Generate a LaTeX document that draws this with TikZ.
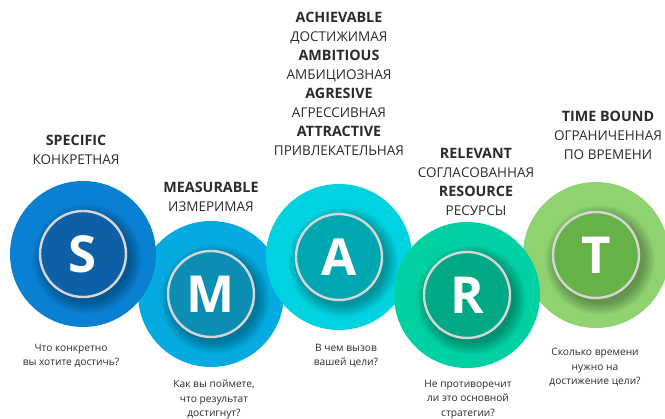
\documentclass[tikz,border=0pt]{standalone}
\usepackage{fontspec}
\setmainfont{Open Sans}
\definecolor{sOut}{HTML}{0A80D2}
\definecolor{sIn}{HTML}{0E5FA6}
\definecolor{mOut}{HTML}{04AAE0}
\definecolor{mIn}{HTML}{0B8DB4}
\definecolor{aOut}{HTML}{00D2E0}
\definecolor{aIn}{HTML}{00A6B0}
\definecolor{rOut}{HTML}{00D0A2}
\definecolor{rIn}{HTML}{00A883}
\definecolor{tOut}{HTML}{8ED36F}
\definecolor{tIn}{HTML}{66B247}
\definecolor{ringc}{HTML}{D6D6D6}
\definecolor{txtc}{HTML}{2B2B2B}
\newcommand\bw[1]{{\bfseries\fontsize{14.3}{19}\selectfont #1}}
\tikzset{
  letterlab/.style={text=white,font=\bfseries\fontsize{51}{51}\selectfont,inner sep=0},
  headlab/.style={align=center,text=txtc,font=\fontsize{13.5}{19}\selectfont,inner sep=0},
  qlab/.style={align=center,text=txtc,font=\fontsize{10.2}{14.3}\selectfont,inner sep=0},
  ringline/.style={draw=ringc,line width=2.4pt}
}
\newcommand\smartcirc[6]{%
  \fill[#3] (#1,#2) circle (73);
  \foreach \k in {1,...,9}{\fill[black,opacity=0.035] (#1+4,#2+5) circle (42+1.4*\k);}
  \fill[#4] (#1,#2) circle (43);
  \draw[ringline] (#1,#2) circle (43);
  \node[letterlab] (#6) at (#1,#2) {#5};
}
\begin{document}
\begin{tikzpicture}[x=1pt,y=-1pt]
\useasboundingbox (0,0) rectangle (665,419);
\begin{scope}
\clip (0,0) rectangle (665,419);
\smartcirc{211}{294}{mOut}{mIn}{M}{m}
\smartcirc{83}{254}{sOut}{sIn}{S}{s}
\smartcirc{339}{257}{aOut}{aIn}{A}{a}
\smartcirc{596}{255}{tOut}{tIn}{T}{t}
\smartcirc{467}{295}{rOut}{rIn}{R}{r}
\end{scope}
\node[headlab] (hs) at (76,150) {\bw{SPECIFIC}\\КОНКРЕТНАЯ};
\node[headlab] (hm) at (211,197) {\bw{MEASURABLE}\\ИЗМЕРИМАЯ};
\node[headlab] (ha) at (339,84) {\bw{ACHIEVABLE}\\ДОСТИЖИМАЯ\\\bw{AMBITIOUS}\\АМБИЦИОЗНАЯ\\\bw{AGRESIVE}\\АГРЕССИВНАЯ\\\bw{ATTRACTIVE}\\ПРИВЛЕКАТЕЛЬНАЯ};
\node[headlab] (hr) at (476,181.5) {\bw{RELEVANT}\\СОГЛАСОВАННАЯ\\\bw{RESOURCE}\\РЕСУРСЫ};
\node[headlab] (ht) at (608,135.5) {\bw{TIME BOUND}\\ОГРАНИЧЕННАЯ\\ПО ВРЕМЕНИ};
\node[qlab] (qs) at (71,355.5) {Что конкретно\\вы хотите достичь?};
\node[qlab] (qm) at (214,399.5) {Как вы поймете,\\что результат\\достигнут?};
\node[qlab] (qa) at (346,355.5) {В чем вызов\\вашей цели?};
\node[qlab] (qr) at (468,399.5) {Не противоречит\\ли это основной\\стратегии?};
\node[qlab] (qt) at (595,367.5) {Сколько времени\\нужно на\\достижение цели?};
\end{tikzpicture}
\end{document}
